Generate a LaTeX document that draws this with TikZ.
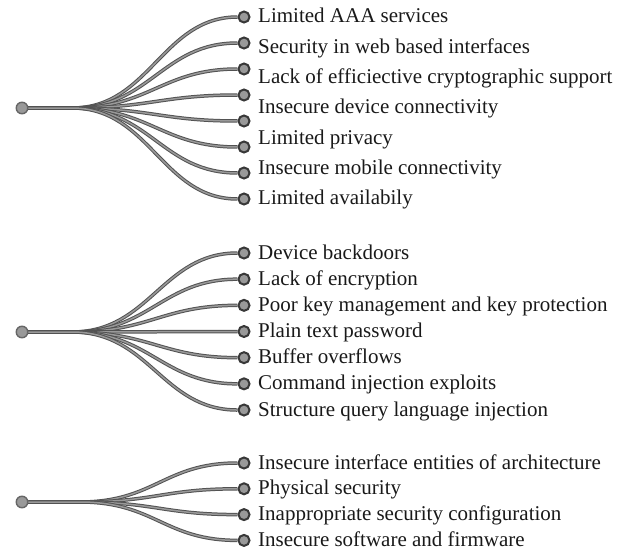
\documentclass[tikz,border=0pt]{standalone}
\usepackage{fontspec}
\setmainfont{Liberation Serif}
\tikzset{
  leaf/.style={circle, draw=black!78, fill=black!40, line width=2pt, minimum size=11pt, inner sep=0pt},
  hub/.style={circle, draw=black!60, fill=black!40, line width=1.4pt, minimum size=11.5pt, inner sep=0pt},
  wire/.style={draw=black!68, double=black!40, double distance=1.5pt, line width=1pt},
  item/.style={anchor=base west, inner sep=0pt, text=black!90, font=\fontsize{21}{24}\selectfont}
}
\begin{document}
\begin{tikzpicture}[x=1pt,y=-1pt]
\useasboundingbox (0,0) rectangle (625,554);

% first group
\node[hub] (r1) at (22,108) {};
\coordinate (k1) at (72,108);
\foreach \i in {1,...,8}
  \node[leaf] (e1-\i) at (244,{17+26*(\i-1)}) {};
\foreach \i in {1,...,8}
  \draw[wire] (r1) -- (k1) .. controls +(78,0) and +(-82,0) .. (e1-\i);
\foreach \t [count=\i] in {Limited AAA services, Security in web based interfaces,
    Lack of efficiective cryptographic support, Insecure device connectivity,
    Limited privacy, Insecure mobile connectivity, Limited availabily}
  \node[item] (t1-\i) at (258,{23+30.33*(\i-1)}) {\t};

% second group
\node[hub] (r2) at (22,332) {};
\coordinate (k2) at (72,332);
\foreach \t [count=\i] in {Device backdoors, Lack of encryption,
    Poor key management and key protection, Plain text password,
    Buffer overflows, Command injection exploits, Structure query language injection}
{
  \node[leaf] (e2-\i) at (244,{253+26.17*(\i-1)}) {};
  \node[item] (t2-\i) at (258,{259+26.17*(\i-1)}) {\t};
}
\foreach \i in {1,...,7}
  \draw[wire] (r2) -- (k2) .. controls +(78,0) and +(-82,0) .. (e2-\i);

% third group
\node[hub] (r3) at (22,502) {};
\coordinate (k3) at (80,502);
\foreach \t [count=\i] in {Insecure interface entities of architecture, Physical security,
    Inappropriate security configuration, Insecure software and firmware}
{
  \node[leaf] (e3-\i) at (244,{463+25.8*(\i-1)}) {};
  \node[item] (t3-\i) at (258,{469+25.8*(\i-1)}) {\t};
}
\foreach \i in {1,...,4}
  \draw[wire] (r3) -- (k3) .. controls +(75,0) and +(-80,0) .. (e3-\i);
\end{tikzpicture}
\end{document}
